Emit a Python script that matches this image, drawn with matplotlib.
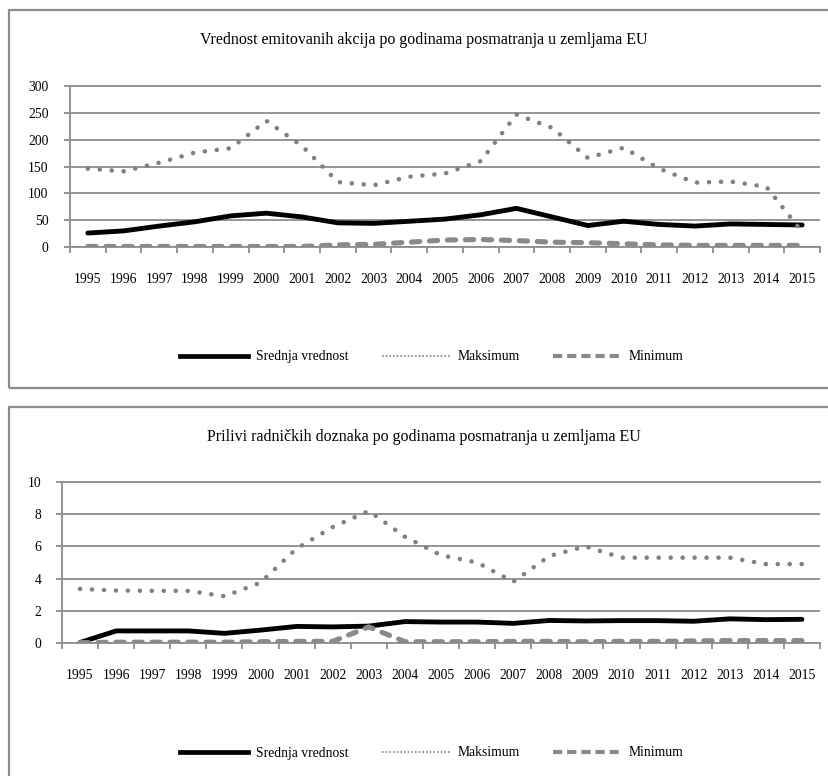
import matplotlib
matplotlib.use('Agg')
import matplotlib.pyplot as plt
from matplotlib.patches import Rectangle
from matplotlib.lines import Line2D

# ---------------- data ----------------
years = [str(y) for y in range(1995, 2016)]
series_names = ["Srednja vrednost", "Maksimum", "Minimum"]

top_title = "Vrednost emitovanih akcija po godinama posmatranja u zemljama EU"
top_mean = [26, 30, 39, 47, 58, 63, 56, 45, 44, 48, 52, 60, 72, 56, 40, 48, 42, 39, 43, 42, 41]
top_max = [146, 141, 157, 176, 184, 235, 188, 121, 115, 131, 137, 160, 247, 222, 166, 185, 146, 120, 122, 112, 28]
top_min = [1, 1, 1, 1, 1, 1, 1, 4, 5, 9, 13, 14, 12, 9, 8, 6, 4, 3, 3, 3, 3]
top_yticks = [0, 50, 100, 150, 200, 250, 300]

bot_title = "Prilivi radničkih doznaka po godinama posmatranja u zemljama EU"
bot_mean = [0.03, 0.75, 0.75, 0.75, 0.6, 0.8, 1.03, 1.0, 1.05, 1.33, 1.3, 1.3, 1.22, 1.4, 1.37, 1.39, 1.39, 1.35, 1.5, 1.45, 1.47]
bot_max = [3.36, 3.26, 3.24, 3.24, 2.9, 3.75, 5.87, 7.2, 8.2, 6.6, 5.45, 5.0, 3.8, 5.4, 6.0, 5.3, 5.3, 5.3, 5.3, 4.9, 4.9]
bot_min = [0.02, 0.05, 0.05, 0.05, 0.05, 0.08, 0.1, 0.1, 1.0, 0.08, 0.08, 0.08, 0.1, 0.1, 0.08, 0.1, 0.1, 0.13, 0.15, 0.15, 0.15]
bot_yticks = [0, 2, 4, 6, 8, 10]

# ---------------- style ----------------
W, H = 829, 776
GRID = '#8c8c8c'
plt.rcParams['font.family'] = ['Liberation Serif', 'DejaVu Serif']

fig = plt.figure(figsize=(W / 100, H / 100), dpi=100)


def fx(px):
    return px / W


def fy(py):
    return 1 - py / H


# panel borders (extend past right/bottom edge as in reference)
for (x0, y0, y1) in [(9.5, 10, 388), (9.5, 407, 800)]:
    fig.patches.append(Rectangle((fx(x0), fy(y1)), fx(900 - x0), (y1 - y0) / H,
                                 transform=fig.transFigure, fill=False,
                                 edgecolor=GRID, lw=1.6, clip_on=False))


def make_panel(ax_px, title, title_y, legend_y, mean, mx, mn, yticks, ypad):
    x0, x1, ytop, ybot = ax_px
    ax = fig.add_axes([fx(x0), fy(ybot), (x1 - x0) / W, (ybot - ytop) / H])
    x = list(range(len(years)))
    ax.plot(x, mean, color='black', lw=3.5, solid_capstyle='round',
            solid_joinstyle='round', zorder=3)
    ax.plot(x, mx, color='#808080', lw=3.3, linestyle=(0, (0.01, 2.6)),
            dash_capstyle='round', zorder=3)
    ax.plot(x, mn, color='#8a8a8a', lw=3.7, linestyle=(0, (1.6, 1.9)),
            dash_capstyle='round', zorder=3)
    ax.set_xlim(-0.5, len(years) - 0.5)
    ax.set_ylim(yticks[0], yticks[-1])
    ax.set_yticks(yticks)
    ax.yaxis.grid(True, color=GRID, lw=1.3)
    ax.set_axisbelow(True)
    ax.spines['right'].set_visible(False)
    for s in ['left', 'bottom', 'top']:
        ax.spines[s].set_color(GRID)
        ax.spines[s].set_linewidth(1.3)
    ax.set_xticks([i - 0.5 for i in range(len(years) + 1)])
    ax.set_xticklabels([])
    ax.set_xticks(x, minor=True)
    ax.set_xticklabels(years, minor=True)
    ax.tick_params(axis='x', which='major', direction='out', length=4,
                   color=GRID, width=1.3)
    ax.tick_params(axis='x', which='minor', length=0, pad=19, labelsize=9.8)
    ax.tick_params(axis='y', direction='out', length=4, color=GRID, width=1.3,
                   pad=ypad, labelsize=9.8)

    fig.text(fx(424), fy(title_y), title, ha='center', va='center', fontsize=11.5)

    h1 = Line2D([], [], color='black', lw=3.4)
    h2 = Line2D([], [], color='#808080', lw=1.2, linestyle=(0, (1, 1.2)))
    h3 = Line2D([], [], color='#8a8a8a', lw=3.0, linestyle=(0, (2.2, 1.2)))
    ax.legend([h1, h2, h3], series_names, loc='center',
              bbox_to_anchor=(fx(432), fy(legend_y)), bbox_transform=fig.transFigure,
              ncol=3, frameon=False, handlelength=5, handletextpad=0.6,
              columnspacing=2.4, fontsize=9.8)
    return ax


make_panel((70, 820, 86, 247), top_title, 40, 357,
           top_mean, top_max, top_min, top_yticks, 11.5)
make_panel((62, 820, 482, 643), bot_title, 437, 753,
           bot_mean, bot_max, bot_min, bot_yticks, 11)

fig.savefig('out.png', dpi=100)
